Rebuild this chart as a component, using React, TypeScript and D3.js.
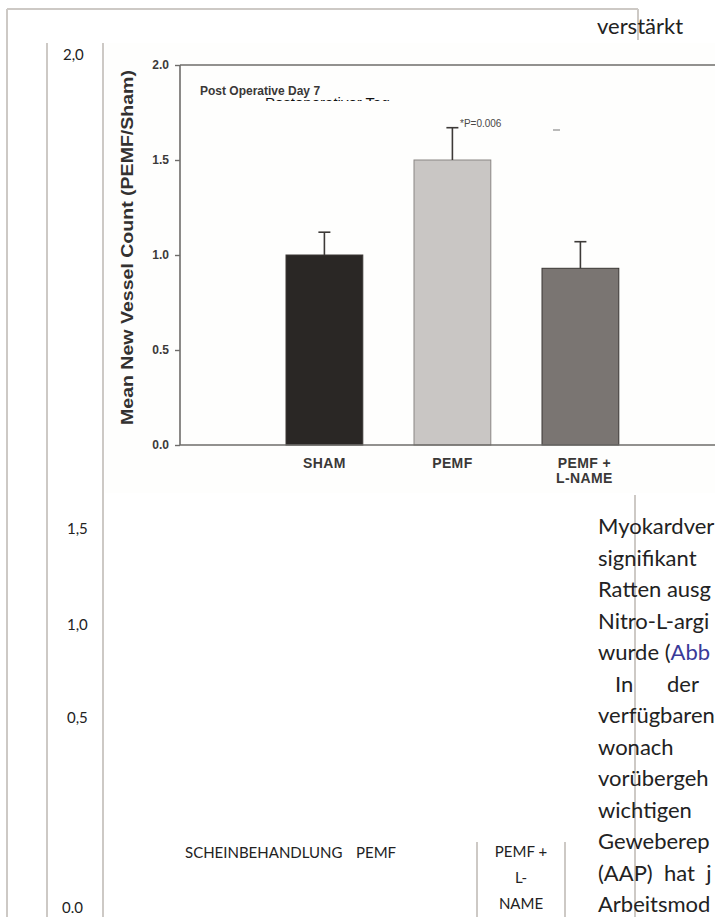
import { useEffect, useRef } from "react";
import * as d3 from "d3";

// chart data (embedded figure)
const categories = ["SHAM", "PEMF", "PEMF +|L-NAME"];
const means = [1.0, 1.5, 0.93];
const errors = [0.12, 0.17, 0.14];
const barColors = ["#2a2725", "#c9c6c4", "#7a7572"];
const yTicks = [0, 0.5, 1.0, 1.5, 2.0];

// translated overlay labels
const tableTicks = ["2,0", "1,5", "1,0", "0,5", "0.0"];
const tableTickY = [60, 534, 630, 723, 913];
const tableCats = ["SCHEINBEHANDLUNG", "PEMF"];
const lastCat = ["PEMF +", "L-", "NAME"];

const bodyLines = [
  "Myokardver",
  "signifikant",
  "Ratten ausg",
  "Nitro-L-argi",
  "wurde (|Abb",
  "   In      der",
  "verfügbaren",
  "wonach",
  "vorübergeh",
  "wichtigen",
  "Geweberep",
  "(AAP)  hat  j",
  "Arbeitsmod",
];

const docFont = "Lato, 'Open Sans', sans-serif";
const chartFont = "'Liberation Sans', Arial, sans-serif";
const gridColor = "#cdc9c5";

function App() {
  const ref = useRef<SVGSVGElement>(null);

  useEffect(() => {
    document.body.style.margin = "0";
    const svg = d3.select(ref.current);
    svg.selectAll("*").remove();

    svg.append("rect").attr("width", 715).attr("height", 917).attr("fill", "#fff");

    // table frame lines
    const lines: [number, number, number, number][] = [
      [7, 9, 638, 9],
      [7, 9, 7, 917],
      [638, 9, 638, 40],
      [47, 43, 47, 917],
      [103, 43, 103, 917],
      [635, 495, 635, 917],
      [477, 842, 477, 917],
      [565, 842, 565, 917],
    ];
    svg.append("g")
      .selectAll("line")
      .data(lines)
      .join("line")
      .attr("x1", (d) => d[0])
      .attr("y1", (d) => d[1])
      .attr("x2", (d) => d[2])
      .attr("y2", (d) => d[3])
      .attr("stroke", gridColor)
      .attr("stroke-width", 2);

    // embedded chart image area
    svg.append("rect")
      .attr("x", 105).attr("y", 43).attr("width", 610).attr("height", 450)
      .attr("fill", "#fefefd");

    const x = d3.scaleBand<string>()
      .domain(categories)
      .range([286, 618.8])
      .paddingInner(0.4)
      .paddingOuter(0);
    const y = d3.scaleLinear().domain([0, 2]).range([445, 65]);

    const chart = svg.append("g");

    // bars
    chart.selectAll("rect.bar")
      .data(categories)
      .join("rect")
      .attr("class", "bar")
      .attr("x", (d) => x(d)!)
      .attr("y", (d, i) => y(means[i]))
      .attr("width", x.bandwidth())
      .attr("height", (d, i) => y(0) - y(means[i]))
      .attr("fill", (d, i) => barColors[i])
      .attr("stroke", (d, i) => (i === 1 ? "#8a8684" : "#3a3634"))
      .attr("stroke-width", 1);

    // error bars
    const eb = chart.selectAll("g.err")
      .data(categories)
      .join("g")
      .attr("class", "err")
      .attr("stroke", "#3d3a38")
      .attr("stroke-width", 1.6);
    eb.append("line")
      .attr("x1", (d) => x(d)! + x.bandwidth() / 2)
      .attr("x2", (d) => x(d)! + x.bandwidth() / 2)
      .attr("y1", (d, i) => y(means[i]))
      .attr("y2", (d, i) => y(means[i] + errors[i]));
    eb.append("line")
      .attr("x1", (d) => x(d)! + x.bandwidth() / 2 - 6)
      .attr("x2", (d) => x(d)! + x.bandwidth() / 2 + 6)
      .attr("y1", (d, i) => y(means[i] + errors[i]))
      .attr("y2", (d, i) => y(means[i] + errors[i]));

    // frame: left axis, top line, bottom axis
    const axisColor = "#6e6c6a";
    chart.append("line").attr("x1", 180).attr("x2", 180).attr("y1", y(2)).attr("y2", y(0))
      .attr("stroke", axisColor).attr("stroke-width", 1.6);
    chart.append("line").attr("x1", 180).attr("x2", 715).attr("y1", y(2)).attr("y2", y(2))
      .attr("stroke", axisColor).attr("stroke-width", 1.6);
    chart.append("line").attr("x1", 180).attr("x2", 715).attr("y1", y(0)).attr("y2", y(0))
      .attr("stroke", axisColor).attr("stroke-width", 1.6);

    const yAxis = d3.axisLeft(y).tickValues(yTicks).tickFormat(d3.format(".1f")).tickSize(5).tickPadding(6);
    const ya = chart.append("g").attr("transform", "translate(180,0)").call(yAxis);
    ya.select(".domain").remove();
    ya.selectAll("line").attr("stroke", axisColor).attr("stroke-width", 1.4);
    ya.selectAll("text")
      .attr("font-family", chartFont)
      .attr("font-weight", "bold")
      .attr("font-size", 12)
      .attr("fill", "#3c3a39");

    chart.append("text")
      .attr("transform", "translate(133,247.5) rotate(-90)")
      .attr("text-anchor", "middle")
      .attr("font-family", chartFont)
      .attr("font-weight", "bold")
      .attr("font-size", 16)
      .attr("textLength", 355)
      .attr("lengthAdjust", "spacingAndGlyphs")
      .attr("fill", "#333130")
      .text("Mean New Vessel Count (PEMF/Sham)");

    // category labels
    chart.selectAll("text.cat")
      .data(categories)
      .join("text")
      .attr("class", "cat")
      .attr("text-anchor", "middle")
      .attr("font-family", chartFont)
      .attr("font-weight", "bold")
      .attr("font-size", 14)
      .attr("letter-spacing", 0.4)
      .attr("fill", "#3a3837")
      .each(function (d) {
        const cx = x(d)! + x.bandwidth() / 2 + (d.includes("|") ? 4 : 0);
        d.split("|").forEach((part, k) => {
          d3.select(this).append("tspan").attr("x", cx).attr("y", 468 + k * 15).text(part);
        });
      });

    chart.append("text")
      .attr("x", 200).attr("y", 95)
      .attr("font-family", chartFont).attr("font-weight", "bold").attr("font-size", 12)
      .attr("fill", "#3a3837")
      .text("Post Operative Day 7");

    svg.append("clipPath").attr("id", "cutTag")
      .append("rect").attr("x", 0).attr("y", 0).attr("width", 715).attr("height", 101);
    chart.append("text")
      .attr("clip-path", "url(#cutTag)")
      .attr("x", 265).attr("y", 108)
      .attr("font-family", chartFont).attr("font-size", 15)
      .attr("fill", "#111")
      .text("Postoperativer Tag");

    chart.append("text")
      .attr("x", 460).attr("y", 127)
      .attr("font-family", chartFont).attr("font-size", 10)
      .attr("fill", "#4a4847")
      .text("*P=0.006");

    chart.append("line").attr("x1", 553).attr("x2", 560).attr("y1", 130).attr("y2", 130)
      .attr("stroke", "#777").attr("stroke-width", 1);

    // translated table text
    const doc = svg.append("g").attr("font-family", docFont).attr("fill", "#222");
    doc.selectAll("text.tick")
      .data(tableTicks)
      .join("text")
      .attr("class", "tick")
      .attr("x", (d, i) => (i === 0 ? 63 : i === 4 ? 62 : 67))
      .attr("y", (d, i) => tableTickY[i])
      .attr("font-size", 15)
      .text((d) => d);

    doc.append("text").attr("x", 185).attr("y", 858).attr("font-size", 15).text(tableCats[0]);
    doc.append("text").attr("x", 356).attr("y", 858).attr("font-size", 15).text(tableCats[1]);
    doc.selectAll("text.last")
      .data(lastCat)
      .join("text")
      .attr("class", "last")
      .attr("x", 521)
      .attr("y", (d, i) => 857 + i * 26)
      .attr("text-anchor", "middle")
      .attr("font-size", 15)
      .text((d) => d);

    doc.append("text").attr("x", 597).attr("y", 34).attr("font-size", 22).text("verstärkt");

    const body = doc.selectAll("text.body")
      .data(bodyLines)
      .join("text")
      .attr("class", "body")
      .attr("x", 598)
      .attr("y", (d, i) => 534 + i * 31.5)
      .attr("font-size", 22)
      .attr("xml:space", "preserve")
      .style("white-space", "pre");
    body.each(function (d) {
      const parts = d.split("|");
      d3.select(this).append("tspan").text(parts[0]);
      if (parts[1]) d3.select(this).append("tspan").attr("fill", "#3a3a99").text(parts[1]);
    });
  }, []);

  return <svg ref={ref} width={715} height={917} style={{ display: "block" }} />;
}

export default App;
